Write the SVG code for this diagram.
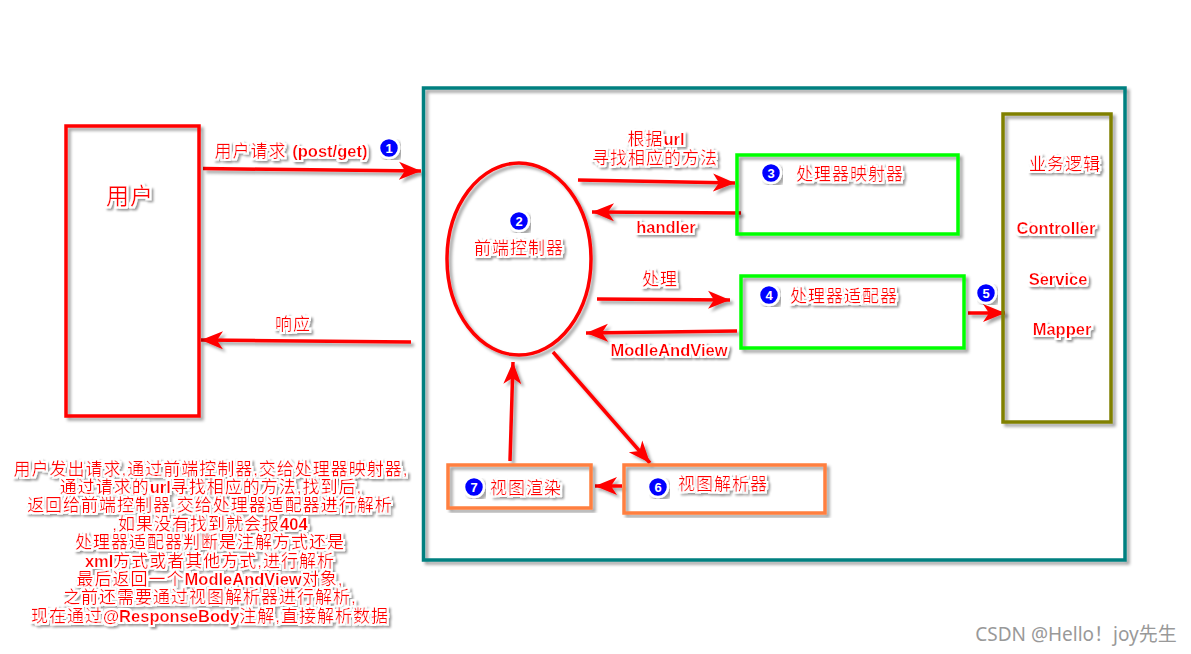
<svg xmlns="http://www.w3.org/2000/svg" width="1191" height="654" viewBox="0 0 1191 654">
<style>
text{font-family:"Liberation Sans","Noto Sans CJK SC",sans-serif;fill:#f00;text-anchor:middle;filter:url(#halo);letter-spacing:1px;font-size:17px}
tspan.b,text.b{font-weight:bold;letter-spacing:0;font-size:16.500px}
.box{fill:none;stroke-width:3.500;filter:url(#sh)}
.arr{fill:none;stroke:#f00;stroke-width:3.500;marker-end:url(#ah);filter:url(#shu)}
.bd{fill:#00f;stroke:#fff;stroke-width:2.500;filter:url(#sh)}
text.n{fill:#fff;font-weight:bold;font-size:13px;letter-spacing:0;filter:none}
</style>
<defs>
<filter id="halo" x="-20%" y="-40%" width="140%" height="180%">
<feMorphology in="SourceAlpha" operator="dilate" radius="2" result="d"/>
<feGaussianBlur in="d" stdDeviation="0.6" result="db"/>
<feFlood flood-color="#fff"/><feComposite in2="db" operator="in" result="w"/>
<feOffset in="d" dx="2" dy="2" result="o"/><feGaussianBlur in="o" stdDeviation="1.2" result="ob"/>
<feFlood flood-color="#000" flood-opacity=".4"/><feComposite in2="ob" operator="in" result="s"/>
<feMerge><feMergeNode in="s"/><feMergeNode in="w"/><feMergeNode in="SourceGraphic"/></feMerge>
</filter>
<filter id="sh" x="-10%" y="-10%" width="120%" height="120%">
<feGaussianBlur in="SourceAlpha" stdDeviation="1.5" result="b"/>
<feOffset in="b" dx="3" dy="3" result="o"/>
<feFlood flood-color="#000" flood-opacity=".35"/><feComposite in2="o" operator="in" result="s"/>
<feMerge><feMergeNode in="s"/><feMergeNode in="SourceGraphic"/></feMerge>
</filter>
<filter id="shu" filterUnits="userSpaceOnUse" x="0" y="0" width="1191" height="654">
<feGaussianBlur in="SourceAlpha" stdDeviation="1.5" result="b"/>
<feOffset in="b" dx="3" dy="3" result="o"/>
<feFlood flood-color="#000" flood-opacity=".35"/><feComposite in2="o" operator="in" result="s"/>
<feMerge><feMergeNode in="s"/><feMergeNode in="SourceGraphic"/></feMerge>
</filter>
<marker id="ah" markerUnits="userSpaceOnUse" markerWidth="24" markerHeight="20" refX="22" refY="10" orient="auto">
<path d="M0 1 L22 10 L0 19 L6 10Z" fill="#f00"/>
</marker>
</defs>
<rect width="1191" height="654" fill="#fff"/>
<g id="connectors">
<path class="arr" d="M203 168.500L421 171"/>
<path class="arr" d="M411 342L201 340"/>
<path class="arr" d="M578 180L735 183"/>
<path class="arr" d="M741 213L592 212"/>
<path class="arr" d="M597 299L730 300"/>
<path class="arr" d="M737 331L586 333"/>
<path class="arr" d="M968 313L1005 313"/>
<path class="arr" d="M553 352L650 463"/>
<path class="arr" d="M510 461L513 362"/>
<path class="arr" d="M622 486L595 486"/>
</g>
<g id="user"><rect class="box" x="66" y="126" width="133" height="290" stroke="#f00"/><text x="130" y="204" style="font-size:23px;letter-spacing:1px">用户</text></g>
<g id="server"><rect class="box" x="423.500" y="88" width="701.500" height="472" stroke="#008080"/></g>
<g id="dispatcher"><ellipse class="box" cx="519" cy="259" rx="72" ry="96" stroke="#f00"/>
<circle class="bd" cx="519" cy="221" r="10"/><text class="n" x="519" y="226">2</text>
<text x="519" y="254">前端控制器</text></g>
<g id="mapper"><rect class="box" x="737" y="155" width="221" height="79" stroke="#0f0"/>
<circle class="bd" cx="771" cy="173" r="10"/><text class="n" x="771" y="178">3</text>
<text x="850" y="180">处理器映射器</text></g>
<g id="adapter"><rect class="box" x="741" y="276" width="223" height="72" stroke="#0f0"/>
<circle class="bd" cx="769" cy="295" r="10"/><text class="n" x="769" y="300">4</text>
<text x="844" y="302">处理器适配器</text></g>
<g id="logic"><rect class="box" x="1003" y="114" width="108" height="308" stroke="#808000"/>
<text x="1065" y="170">业务逻辑</text>
<text class="b" x="1056" y="234">Controller</text>
<text class="b" x="1058" y="285">Service</text>
<text class="b" x="1062" y="335">Mapper</text></g>
<g id="resolver"><rect class="box" x="624" y="465" width="201" height="48" stroke="#ff7f3f"/>
<circle class="bd" cx="658" cy="487" r="10"/><text class="n" x="658" y="492">6</text>
<text x="723" y="490">视图解析器</text></g>
<g id="render"><rect class="box" x="448" y="465" width="143" height="43" stroke="#ff7f3f"/>
<circle class="bd" cx="474" cy="487" r="10"/><text class="n" x="474" y="492">7</text>
<text x="526" y="494">视图渲染</text></g>
<g id="labels">
<text x="291" y="157">用户请求 <tspan class="b">(post/get)</tspan></text>
<circle class="bd" cx="389" cy="148" r="10"/><text class="n" x="389" y="153">1</text>
<circle class="bd" cx="986" cy="293" r="10"/><text class="n" x="986" y="298">5</text>
<text x="656" y="145">根据<tspan class="b">url</tspan></text>
<text x="655" y="164">寻找相应的方法</text>
<text class="b" x="666" y="233">handler</text>
<text x="660" y="285">处理</text>
<text class="b" x="669" y="356">ModleAndView</text>
<text x="293" y="330">响应</text>
</g>
<g id="note">
<text x="211" y="475">用户发出请求,通过前端控制器,交给处理器映射器,</text>
<text x="211" y="493">通过请求的<tspan class="b">url</tspan>寻找相应的方法,找到后,</text>
<text x="210" y="511">返回给前端控制器,交给处理器适配器进行解析</text>
<text x="210" y="530">,如果没有找到就会报<tspan class="b">404</tspan></text>
<text x="210" y="548">处理器适配器判断是注解方式还是</text>
<text x="210" y="567"><tspan class="b">xml</tspan>方式或者其他方式,进行解析</text>
<text x="210" y="585">最后返回一个<tspan class="b">ModleAndView</tspan>对象,</text>
<text x="210" y="603">之前还需要通过视图解析器进行解析,</text>
<text x="210" y="622">现在通过<tspan class="b">@ResponseBody</tspan>注解,直接解析数据</text>
</g>
<text x="1076" y="641" style="font-size:19px;fill:#999;filter:none;letter-spacing:0;font-family:'Noto Sans','Noto Sans CJK SC',sans-serif">CSDN @Hello！joy先生</text>
</svg>
